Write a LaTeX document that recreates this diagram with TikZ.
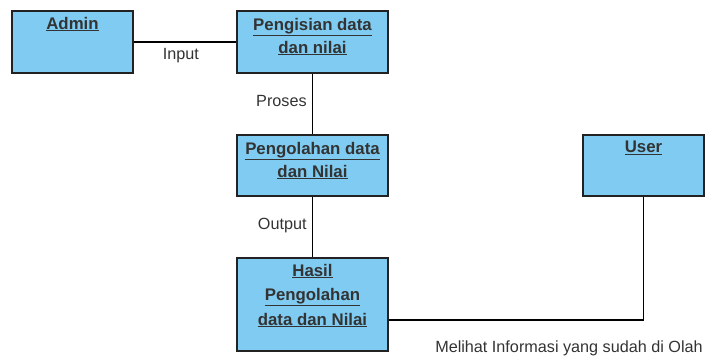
\documentclass[tikz,border=0pt]{standalone}
\usepackage{fontspec}
\setmainfont{Liberation Sans}
\usetikzlibrary{positioning}
\definecolor{boxblue}{HTML}{7FCBF1}
\definecolor{linegray}{HTML}{222222}
\definecolor{txtgray}{HTML}{333333}

\begin{document}
\begin{tikzpicture}[x = 1pt, y = -1pt,
  box/.style = {draw = linegray, line width = 1.3pt, fill = boxblue, inner sep = 0pt},
  title/.style = {anchor = north, align = center, font = \fontsize{16.8}{23}\selectfont\bfseries, text = txtgray},
  conn/.style = {draw = black, line width = 1.1pt},
  lbl/.style = {font = \fontsize{16.2}{18}\selectfont, text = txtgray}]
\useasboundingbox (0,0) rectangle (707,358);
\node[box, minimum width = 121, minimum height = 62,
  label = {[title, yshift = -3]north:\underline{Admin}}] (admin) at (72.5,42) {};
\node[box, minimum width = 151, minimum height = 62,
  label = {[title, yshift = -4]north:\underline{Pengisian data}\\\underline{dan nilai}}] (isi) at (312.5,42) {};
\node[box, minimum width = 151, minimum height = 61,
  label = {[title, yshift = -4]north:\underline{Pengolahan data}\\\underline{dan Nilai}}] (olah) at (312.5,165.5) {};
\node[box, minimum width = 151, minimum height = 93,
  label = {[title, yshift = -3, font = \fontsize{16.8}{24.5}\selectfont\bfseries]north:\underline{Hasil}\\\underline{Pengolahan}\\\underline{data dan Nilai}}] (hasil) at (312.5,304.5) {};
\node[box, minimum width = 121, minimum height = 61,
  label = {[title, yshift = -3]north:\underline{User}}] (user) at (643.5,165.5) {};
% connectors
\draw[conn] (admin) - - (isi) node[pos = .46, below = 2pt, lbl]{Input};
\draw[conn] (isi) - - (olah) node[pos = .45, left = 2pt, lbl]{Proses};
\draw[conn] (olah) - - (hasil) node[pos = .47, left = 2pt, lbl]{Output};
\draw[conn] (hasil.east |- 0,320) - | (user.south);
\node[lbl] (info) at (569,348) {Melihat Informasi yang sudah di Olah};
\end{tikzpicture}
\end{document}
